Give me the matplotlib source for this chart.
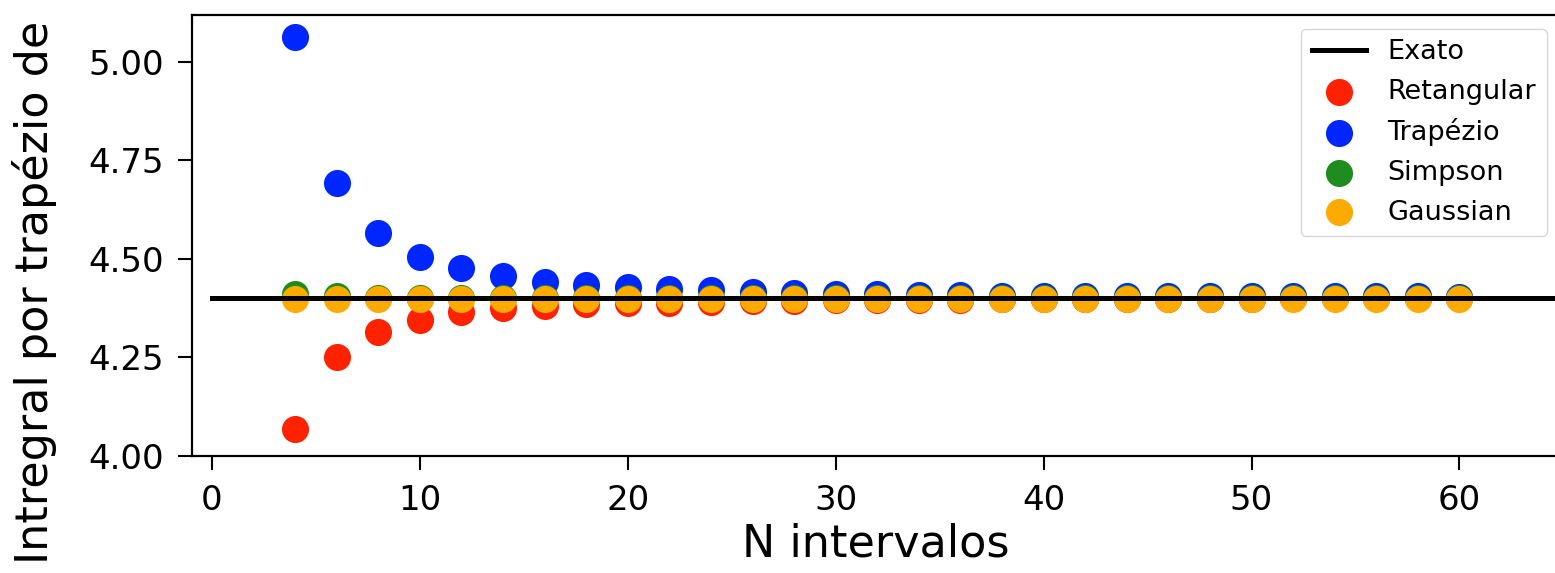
import matplotlib
matplotlib.use('Agg')
import matplotlib.pyplot as plt

# dados
n_intervalos = [4, 6, 8, 10, 12, 14, 16, 18, 20, 22, 24, 26, 28, 30, 32,
                34, 36, 38, 40, 42, 44, 46, 48, 50, 52, 54, 56, 58, 60]

retangular = [4.069, 4.251, 4.315, 4.345, 4.366, 4.375, 4.381, 4.386, 4.388, 4.389,
              4.391, 4.393, 4.394, 4.395, 4.396, 4.397, 4.397, 4.398, 4.398, 4.398,
              4.399, 4.399, 4.399, 4.399, 4.400, 4.400, 4.400, 4.400, 4.400]

trapezio = [5.063, 4.693, 4.566, 4.504, 4.476, 4.457, 4.442, 4.434, 4.428, 4.423,
            4.420, 4.416, 4.413, 4.412, 4.410, 4.409, 4.408, 4.407, 4.407, 4.406,
            4.406, 4.406, 4.405, 4.405, 4.405, 4.405, 4.405, 4.405, 4.404]

simpson = [4.410, 4.405, 4.402, 4.401, 4.400, 4.400, 4.400, 4.400, 4.400, 4.400,
           4.400, 4.400, 4.400, 4.400, 4.400, 4.400, 4.400, 4.400, 4.400, 4.400,
           4.400, 4.400, 4.400, 4.400, 4.400, 4.400, 4.400, 4.400, 4.400]

gaussian = [4.398, 4.399, 4.399, 4.399, 4.399, 4.399, 4.399, 4.399, 4.399, 4.399,
            4.399, 4.399, 4.399, 4.399, 4.399, 4.399, 4.399, 4.399, 4.399, 4.399,
            4.399, 4.399, 4.399, 4.399, 4.399, 4.399, 4.399, 4.399, 4.399]

exato = 4.402
x_exato = [0, 70]

fig = plt.figure(figsize=(15.55, 5.73), dpi=100)
# o eixo passa um pouco da borda direita da figura (como no original, recortado)
ax = fig.add_axes([0.1235, 0.2042, 0.8800, 0.7696])

ax.plot(x_exato, [exato, exato], color='black', lw=3.6, label='Exato')
ax.scatter(n_intervalos, retangular, s=380, color='#ff2200', linewidths=0, label='Retangular')
ax.scatter(n_intervalos, trapezio, s=380, color='#0026ff', linewidths=0, label='Trapézio')
ax.scatter(n_intervalos, simpson, s=380, color='#1e8c1e', linewidths=0, label='Simpson')
ax.scatter(n_intervalos, gaussian, s=380, color='#ffaa00', linewidths=0, label='Gaussian')

ax.set_xlim(-0.96, 64.86)
ax.set_ylim(4.0, 5.119)
ax.set_xticks([0, 10, 20, 30, 40, 50, 60])
ax.set_yticks([4.00, 4.25, 4.50, 4.75, 5.00])
ax.set_yticklabels(['4.00', '4.25', '4.50', '4.75', '5.00'])

for sp in ax.spines.values():
    sp.set_linewidth(1.6)
ax.tick_params(labelsize=24.5, length=10, width=1.5, pad=10)

ax.set_xlabel('N intervalos', fontsize=32)
ax.set_ylabel('Intregral por trapézio de', fontsize=32, loc='bottom')
ax.yaxis.set_label_coords(-0.099, -0.245)

ax.legend(loc='upper right', fontsize=19.5)

fig.savefig('out.png', dpi=100)
